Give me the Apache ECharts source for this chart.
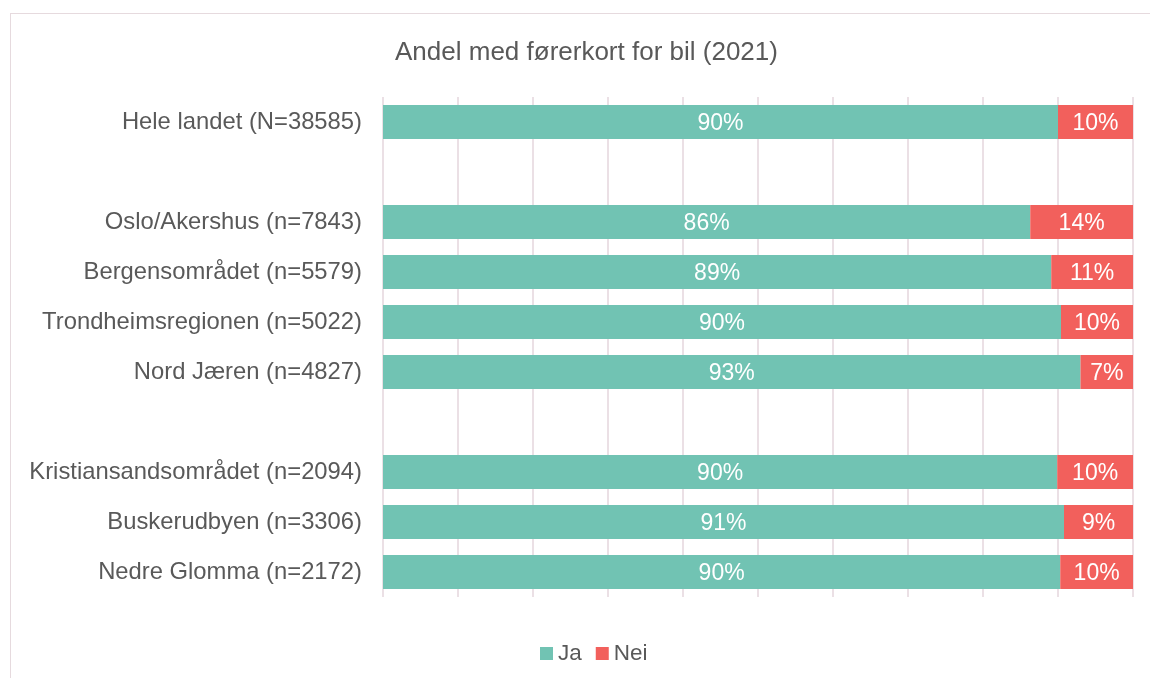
<!DOCTYPE html>
<html lang="no" style="height: 100%">
  <head>
    <meta charset="utf-8" />
  </head>
  <body style="height: 100%; margin: 0; overflow: hidden; background: #fff">
    <div id="frame" style="position:absolute;left:10px;top:13px;width:1160px;height:700px;border:1.5px solid #e6dade;box-sizing:border-box"></div>
    <div id="container" style="position:absolute;left:0;top:0;width:1150px;height:678px"></div>
    <script type="text/javascript" src="https://cdn.jsdelivr.net/npm/echarts@6/dist/echarts.min.js"></script>
    <script type="text/javascript">
      const categories = [
        'Hele landet (N=38585)',
        '',
        'Oslo/Akershus (n=7843)',
        'Bergensområdet (n=5579)',
        'Trondheimsregionen (n=5022)',
        'Nord Jæren (n=4827)',
        ' ',
        'Kristiansandsområdet (n=2094)',
        'Buskerudbyen (n=3306)',
        'Nedre Glomma (n=2172)'
      ]
      const ja = [90.0, null, 86.3, 89.1, 90.4, 93.0, null, 89.9, 90.8, 90.3]
      const nei = [10.0, null, 13.7, 10.9, 9.6, 7.0, null, 10.1, 9.2, 9.7]

      const FONT = 'Liberation Sans, Arial, sans-serif'
      const myChart = echarts.init(document.getElementById('container'), null, { renderer: 'canvas' })

      const labelStyle = {
        show: true,
        position: 'inside',
        offset: [0, 2],
        color: '#ffffff',
        fontSize: 23,
        fontFamily: FONT,
        formatter: (p) => (p.value == null ? '' : Math.round(p.value) + '%')
      }

      const option = {
        animation: false,
        title: {
          text: 'Andel med førerkort for bil (2021)',
          left: 390,
          top: 35,
          textStyle: {
            color: '#595959',
            fontSize: 26,
            fontWeight: 'normal',
            fontFamily: FONT
          }
        },
        legend: {
          left: 535,
          top: 637,
          itemWidth: 13,
          itemHeight: 13,
          itemGap: 14,
          icon: 'rect',
          textStyle: {
            color: '#595959',
            fontSize: 22.5,
            fontFamily: FONT
          },
          data: ['Ja', 'Nei']
        },
        grid: { left: 383, right: 17, top: 97, height: 500, containLabel: false },
        xAxis: {
          type: 'value',
          min: 0,
          max: 100,
          interval: 10,
          axisLine: { show: false },
          axisTick: { show: false },
          axisLabel: { show: false },
          splitLine: { show: true, lineStyle: { color: '#e4d6dc', width: 1.5 } }
        },
        yAxis: {
          type: 'category',
          inverse: true,
          data: categories,
          axisLine: { show: false },
          axisTick: { show: false },
          axisLabel: {
            color: '#595959',
            fontSize: 23.8,
            margin: 21,
            padding: [4, 0, 0, 0],
            fontFamily: FONT
          }
        },
        series: [
          {
            name: 'Ja',
            type: 'bar',
            stack: 'total',
            barWidth: 34,
            itemStyle: { color: '#71c3b3' },
            label: labelStyle,
            data: ja
          },
          {
            name: 'Nei',
            type: 'bar',
            stack: 'total',
            barWidth: 34,
            itemStyle: { color: '#f2605c' },
            label: labelStyle,
            data: nei
          }
        ]
      }

      myChart.setOption(option)
      window.addEventListener('resize', myChart.resize)
    </script>
  </body>
</html>
